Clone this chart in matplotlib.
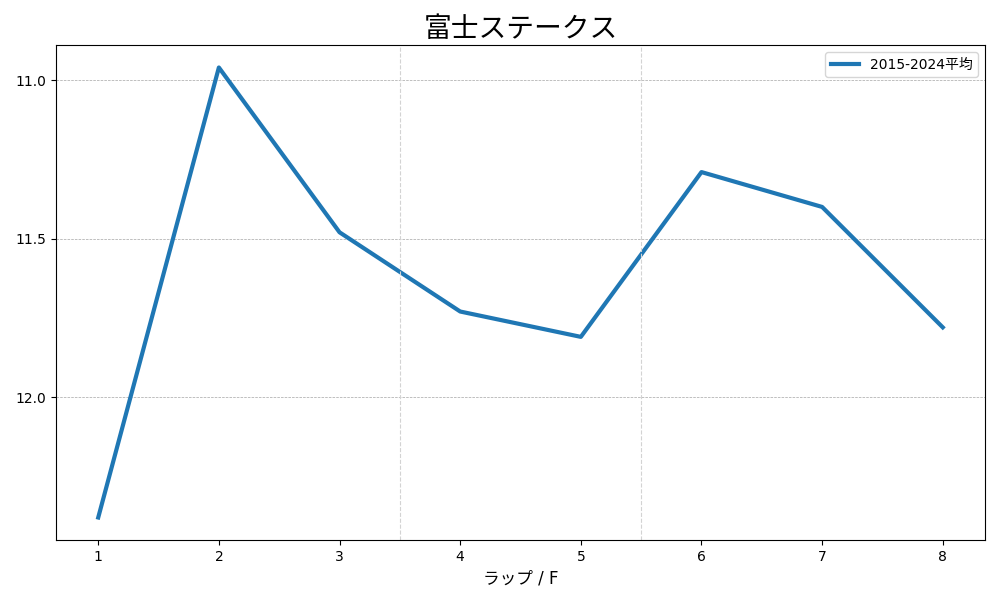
import matplotlib
matplotlib.use('Agg')
import matplotlib.pyplot as plt
from matplotlib.ticker import MultipleLocator

plt.rcParams['font.family'] = ['DejaVu Sans', 'Noto Sans CJK JP']

# lap times per furlong (average 2015-2024)
laps = [1, 2, 3, 4, 5, 6, 7, 8]
avg_times = [12.38, 10.96, 11.48, 11.73, 11.81, 11.29, 11.40, 11.78]
section_marks = [3.5, 5.5]

fig, ax = plt.subplots(figsize=(10, 6), dpi=100)
ax.plot(laps, avg_times, color='#1f77b4', linewidth=3, label='2015-2024平均')
for xm in section_marks:
    ax.axvline(xm, color='lightgray', linestyle='--', linewidth=0.8)
ax.invert_yaxis()
ax.set_xticks(laps)
ax.yaxis.set_major_locator(MultipleLocator(0.5))
ax.grid(axis='y', linestyle='--', linewidth=0.5, color='gray', alpha=0.7)
ax.set_title('富士ステークス', fontsize=20)
ax.set_xlabel('ラップ / F', fontsize=12)
ax.legend(loc='upper right')
fig.subplots_adjust(left=0.056, right=0.985, top=0.925, bottom=0.1)
plt.savefig('out.png')
